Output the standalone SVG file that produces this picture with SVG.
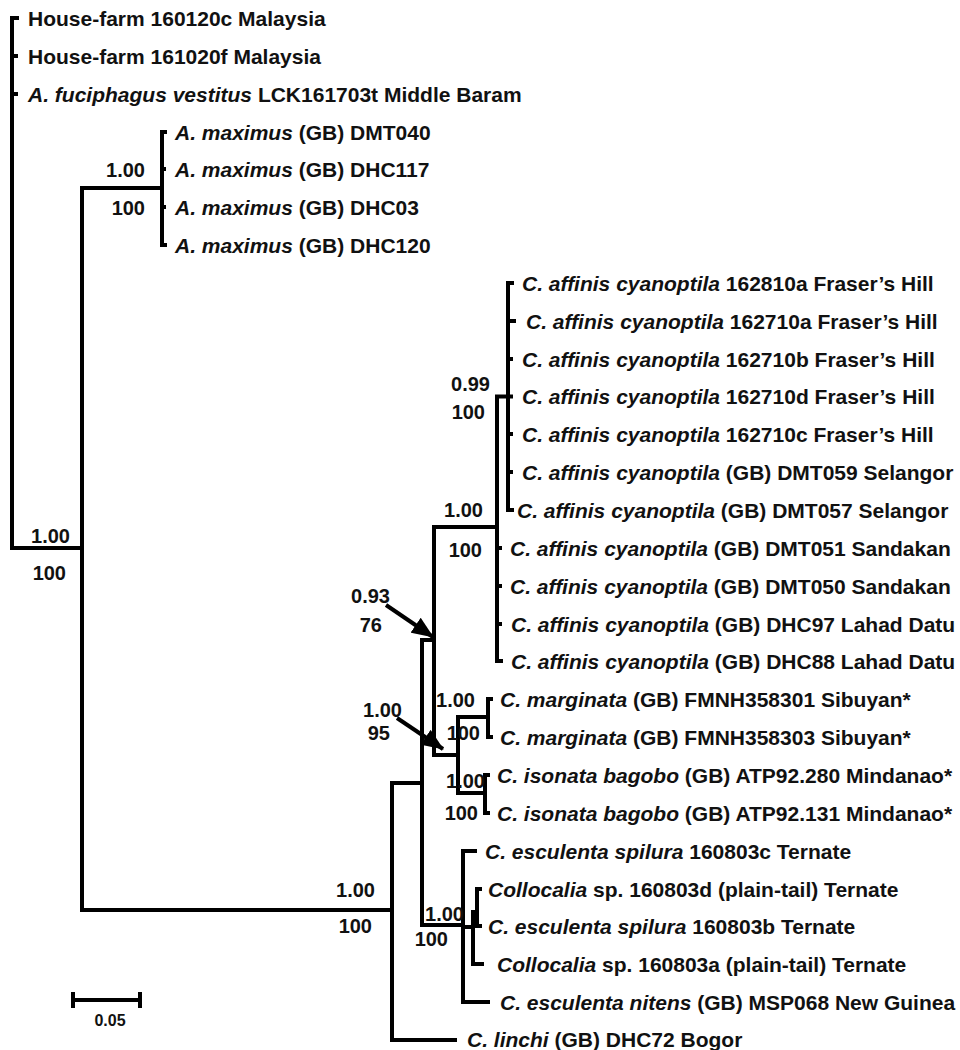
<svg xmlns="http://www.w3.org/2000/svg" width="960" height="1050" viewBox="0 0 960 1050">
<style>
.t{font-family:"Liberation Sans",Arial,sans-serif;font-weight:bold;font-size:21px;fill:#111}
.s{font-family:"Liberation Sans",Arial,sans-serif;font-weight:bold;font-size:20px;fill:#111}
.i{font-style:italic}
.b{fill:none;stroke:#000;stroke-width:4;stroke-linejoin:miter;stroke-linecap:butt}
.sc{font-family:"Liberation Sans",Arial,sans-serif;font-weight:bold;font-size:16px;fill:#111}
</style>
<defs>
<marker id="ah" markerUnits="userSpaceOnUse" markerWidth="22" markerHeight="18" viewBox="0 0 22 18" refX="21" refY="9" orient="auto">
<path d="M0,0 L22,9 L0,18 z" fill="#000"/>
</marker>
</defs>
<rect width="960" height="1050" fill="#fff"/>
<g id="connectors">
<path class="b" d="M19,18 H12 V548 H82"/>
<path class="b" d="M12,56 H18 M12,94 H18"/>
<path class="b" d="M162,188 H82 V910 H392"/>
<path class="b" d="M167,132 H162 V245 H167 M162,169 H166 M162,207 H166"/>
<path class="b" d="M422,783 H392 V1040 H457"/>
<path class="b" d="M434,640 H422 V925 H463"/>
<path class="b" d="M497,527 H434 V755 H458"/>
<path class="b" d="M508,396.5 H497 V661 H503 M497,548 H502 M497,586 H502 M497,624 H502"/>
<path class="b" d="M514,283 H508 V510 H514 M508,321 H516 M508,359 H513 M508,396.5 H513 M508,434 H513 M508,472 H513"/>
<path class="b" d="M488,717 H458 V793 H485"/>
<path class="b" d="M493,699 H488 V737 H493"/>
<path class="b" d="M490,775 H485 V813 H490"/>
<path class="b" d="M477,851 H463 V1002 H490 M463,927 H473"/>
<path class="b" d="M477,912 H473 V964 H484"/>
<path class="b" d="M482,889 H477 V926 H482"/>
<path class="b" d="M475,912 V927"/>
<path class="b" d="M386,605 L433,637" marker-end="url(#ah)"/>
<path class="b" d="M397,718 L443,749" marker-end="url(#ah)"/>
</g>
<g id="leaves">
<text class="t" x="28" y="25.5">House-farm 160120c Malaysia</text>
<text class="t" x="28" y="63.5">House-farm 161020f Malaysia</text>
<text class="t" x="28" y="101.5"><tspan class="i">A. fuciphagus vestitus</tspan> LCK161703t Middle Baram</text>
<text class="t" x="175" y="139.5"><tspan class="i">A. maximus</tspan> (GB) DMT040</text>
<text class="t" x="175" y="176.5"><tspan class="i">A. maximus</tspan> (GB) DHC117</text>
<text class="t" x="175" y="214.5"><tspan class="i">A. maximus</tspan> (GB) DHC03</text>
<text class="t" x="175" y="252.5"><tspan class="i">A. maximus</tspan> (GB) DHC120</text>
<text class="t" x="522" y="290.5"><tspan class="i">C. affinis cyanoptila</tspan> 162810a Fraser’s Hill</text>
<text class="t" x="526" y="328.5"><tspan class="i">C. affinis cyanoptila</tspan> 162710a Fraser’s Hill</text>
<text class="t" x="522" y="366.5"><tspan class="i">C. affinis cyanoptila</tspan> 162710b Fraser’s Hill</text>
<text class="t" x="522" y="404"><tspan class="i">C. affinis cyanoptila</tspan> 162710d Fraser’s Hill</text>
<text class="t" x="522" y="441.5"><tspan class="i">C. affinis cyanoptila</tspan> 162710c Fraser’s Hill</text>
<text class="t" x="522" y="479.5"><tspan class="i">C. affinis cyanoptila</tspan> (GB) DMT059 Selangor</text>
<text class="t" x="517" y="517.5"><tspan class="i">C. affinis cyanoptila</tspan> (GB) DMT057 Selangor</text>
<text class="t" x="510" y="555.5"><tspan class="i">C. affinis cyanoptila</tspan> (GB) DMT051 Sandakan</text>
<text class="t" x="510" y="593.5"><tspan class="i">C. affinis cyanoptila</tspan> (GB) DMT050 Sandakan</text>
<text class="t" x="511" y="631.5"><tspan class="i">C. affinis cyanoptila</tspan> (GB) DHC97 Lahad Datu</text>
<text class="t" x="511" y="668.5"><tspan class="i">C. affinis cyanoptila</tspan> (GB) DHC88 Lahad Datu</text>
<text class="t" x="500" y="706.5"><tspan class="i">C. marginata</tspan> (GB) FMNH358301 Sibuyan*</text>
<text class="t" x="500" y="744.5"><tspan class="i">C. marginata</tspan> (GB) FMNH358303 Sibuyan*</text>
<text class="t" x="497" y="782.5"><tspan class="i">C. isonata bagobo</tspan> (GB) ATP92.280 Mindanao*</text>
<text class="t" x="497" y="820.5"><tspan class="i">C. isonata bagobo</tspan> (GB) ATP92.131 Mindanao*</text>
<text class="t" x="485" y="858.5"><tspan class="i">C. esculenta spilura</tspan> 160803c Ternate</text>
<text class="t" x="488" y="896.5"><tspan class="i">Collocalia</tspan> sp. 160803d (plain-tail) Ternate</text>
<text class="t" x="488" y="933.5"><tspan class="i">C. esculenta spilura</tspan> 160803b Ternate</text>
<text class="t" x="497" y="971.5"><tspan class="i">Collocalia</tspan> sp. 160803a (plain-tail) Ternate</text>
<text class="t" x="500" y="1009.5"><tspan class="i">C. esculenta nitens</tspan> (GB) MSP068 New Guinea</text>
<text class="t" x="467" y="1047"><tspan class="i">C. linchi</tspan> (GB) DHC72 Bogor</text>
</g>
<g id="supports">
<text class="s" x="70" y="543" text-anchor="end">1.00</text>
<text class="s" x="66" y="580" text-anchor="end">100</text>
<text class="s" x="145" y="177" text-anchor="end">1.00</text>
<text class="s" x="145" y="215" text-anchor="end">100</text>
<text class="s" x="490" y="391" text-anchor="end">0.99</text>
<text class="s" x="485" y="419" text-anchor="end">100</text>
<text class="s" x="483" y="517" text-anchor="end">1.00</text>
<text class="s" x="482" y="557" text-anchor="end">100</text>
<text class="s" x="390" y="603" text-anchor="end">0.93</text>
<text class="s" x="382" y="632" text-anchor="end">76</text>
<text class="s" x="402" y="717" text-anchor="end">1.00</text>
<text class="s" x="390" y="740" text-anchor="end">95</text>
<text class="s" x="475" y="707" text-anchor="end">1.00</text>
<text class="s" x="480" y="740" text-anchor="end">100</text>
<text class="s" x="485" y="788" text-anchor="end">1.00</text>
<text class="s" x="478" y="820" text-anchor="end">100</text>
<text class="s" x="464" y="921" text-anchor="end">1.00</text>
<text class="s" x="448" y="946" text-anchor="end">100</text>
<text class="s" x="375" y="897" text-anchor="end">1.00</text>
<text class="s" x="372" y="933" text-anchor="end">100</text>
</g>
<g id="scalebar">
<path class="b" d="M73,1000 H140 M73,992 V1008 M140,992 V1008"/>
<text class="sc" x="110" y="1026" text-anchor="middle">0.05</text>
</g>
</svg>
